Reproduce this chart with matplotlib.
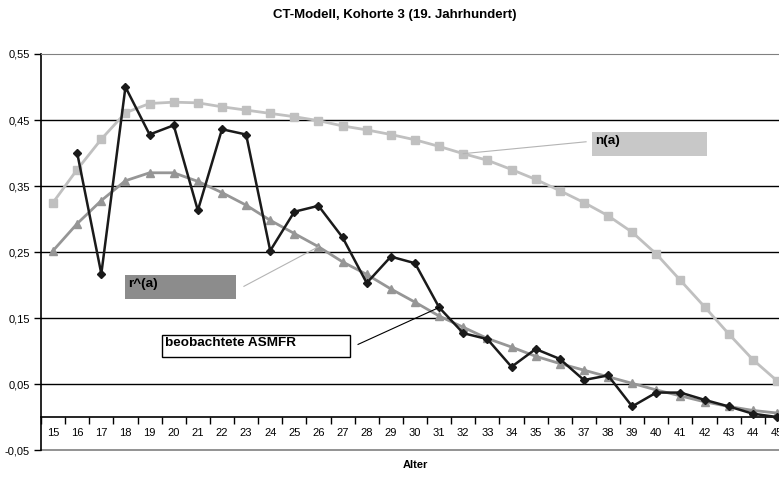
import matplotlib
matplotlib.use("Agg")
import matplotlib.pyplot as plt
from matplotlib.patches import Rectangle

plt.rcParams['font.family'] = ['Liberation Sans', 'DejaVu Sans']

ages = list(range(15, 46))
n_a = [0.325, 0.375, 0.421, 0.461, 0.475, 0.477, 0.476, 0.470, 0.465, 0.460,
       0.455, 0.449, 0.441, 0.435, 0.428, 0.420, 0.410, 0.399, 0.389, 0.375,
       0.360, 0.343, 0.325, 0.305, 0.280, 0.247, 0.207, 0.167, 0.126, 0.087, 0.055]
r_hat = [0.252, 0.293, 0.328, 0.358, 0.370, 0.370, 0.357, 0.340, 0.321, 0.298,
         0.278, 0.258, 0.235, 0.216, 0.194, 0.174, 0.153, 0.136, 0.119, 0.106,
         0.092, 0.081, 0.071, 0.061, 0.051, 0.041, 0.032, 0.023, 0.016, 0.010, 0.006]
asmfr_ages = list(range(16, 46))
asmfr = [0.400, 0.217, 0.500, 0.428, 0.442, 0.313, 0.436, 0.428, 0.252, 0.311,
         0.320, 0.272, 0.203, 0.243, 0.233, 0.166, 0.127, 0.118, 0.076, 0.103,
         0.088, 0.056, 0.063, 0.016, 0.037, 0.037, 0.026, 0.016, 0.005, 0.000]
yticks = [-0.05, 0.05, 0.15, 0.25, 0.35, 0.45, 0.55]
ytick_labels = ['-0,05', '0,05', '0,15', '0,25', '0,35', '0,45', '0,55']

W, H = 779, 478
fig = plt.figure(figsize=(W / 100, H / 100), dpi=100)
ax = fig.add_axes([41 / W, 28 / H, 748 / W, 396 / H])

ax.set_xlim(14.5, 45.5)
ax.set_ylim(-0.05, 0.55)

# gridlines
for y in yticks:
    if -0.05 < y < 0.55:
        ax.axhline(y, color='black', lw=1.0, zorder=1)
ax.axhline(-0.05, color='#808080', lw=1.2, zorder=1, clip_on=False)

ax.plot(ages, n_a, color='#c0c0c0', lw=2.0, marker='s', ms=5.5, zorder=3)
ax.plot(ages, r_hat, color='#969696', lw=2.0, marker='^', ms=5.5, zorder=4)
ax.plot(asmfr_ages, asmfr, color='#1a1a1a', lw=1.8, marker='D', ms=3.8, zorder=5)

# spines
ax.spines['top'].set_color('#808080')
ax.spines['right'].set_color('#808080')
ax.spines['left'].set_color('black')
ax.spines['left'].set_linewidth(1.2)
ax.spines['bottom'].set_position(('data', 0))
ax.spines['bottom'].set_color('black')
ax.spines['bottom'].set_linewidth(1.2)

ax.set_yticks(yticks)
ax.set_yticklabels(ytick_labels, fontsize=8)
ax.tick_params(axis='y', direction='out', length=5, width=1, pad=3)

ax.set_xticks([a + 0.5 for a in ages[:-1]] + [14.5])
ax.set_xticklabels([])
ax.set_xticks(ages, minor=True)
ax.set_xticklabels([str(a) for a in ages], minor=True, fontsize=8)
ax.tick_params(axis='x', which='major', direction='out', length=5, width=1)
ax.tick_params(axis='x', which='minor', length=0, pad=8)

ax.set_xlabel('Alter', fontsize=8, fontweight='bold')
ax.xaxis.set_label_coords((415 - 41) / 748, -(460 - 450) / 396)

fig.text(395 / W, 1 - 15 / H, 'CT-Modell, Kohorte 3 (19. Jahrhundert)',
         ha='center', va='center', fontsize=9.5, fontweight='bold')

# annotations
def label_box(x0, x1, y0, y1, text, fc, ec, target, start):
    ax.plot([start[0], target[0]], [start[1], target[1]],
            color=ec if ec == 'black' else '#b4b4b4', lw=0.8, zorder=6)
    ax.add_patch(Rectangle((x0, y0), x1 - x0, y1 - y0, facecolor=fc,
                           edgecolor=ec, lw=1.0, zorder=7))
    ax.text(x0 + 0.12, (y0 + y1) / 2 + 0.004, text, fontsize=9.7, fontweight='bold',
            ha='left', va='center', zorder=8)

label_box(37.33, 42.1, 0.396, 0.432, 'n(a)', '#c8c8c8', 'none',
          (32, n_a[ages.index(32)]), (37.09, 0.417))
label_box(17.98, 22.58, 0.179, 0.215, 'r^(a)', '#8c8c8c', 'none',
          (26, r_hat[ages.index(26)]), (22.91, 0.198))
label_box(19.5, 27.3, 0.091, 0.124, 'beobachtete ASMFR', 'white', 'black',
          (31, asmfr[asmfr_ages.index(31)]), (27.64, 0.110))

fig.savefig('out.png', dpi=100)
